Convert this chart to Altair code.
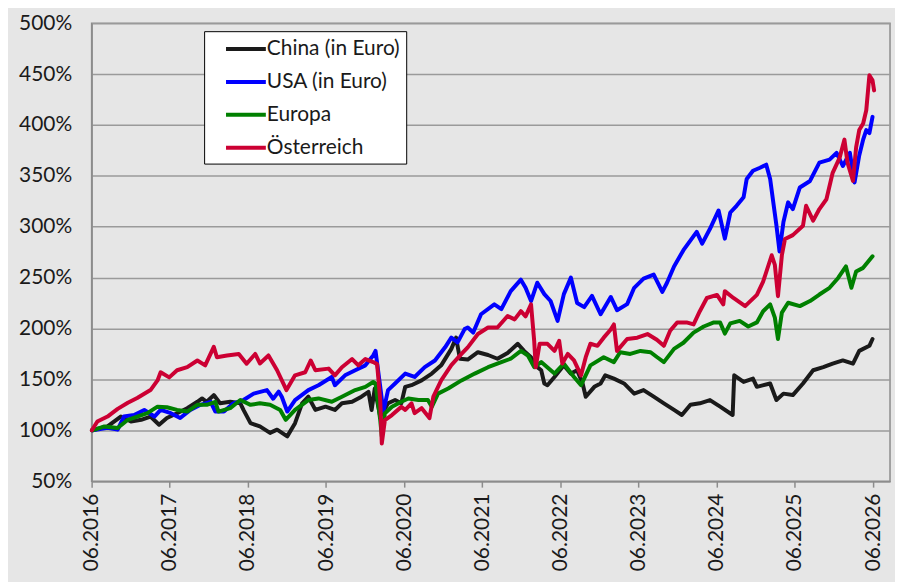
import altair as alt
import pandas as pd

SERIES = ["China (in Euro)", "USA (in Euro)", "Europa", "Österreich"]
COLORS = ["#1a1a1a", "#0000ff", "#008000", "#cc0033"]

Y_TICKS = [50, 100, 150, 200, 250, 300, 350, 400, 450, 500]
X_TICK_YEARS = list(range(2016, 2027))
X_TICKS = [y + 5 / 12 for y in X_TICK_YEARS]  # June of each year
X_DOMAIN = [2016 + 5 / 12, 2026.634]

china_t = [2016.42, 2016.62, 2016.79, 2016.92, 2017.05, 2017.17, 2017.28, 2017.38, 2017.51, 2017.64,
           2017.77, 2017.83, 2017.89, 2017.98, 2018.06, 2018.19, 2018.32, 2018.36, 2018.45, 2018.57,
           2018.70, 2018.79, 2018.92, 2019.02, 2019.11, 2019.19, 2019.28, 2019.41, 2019.53, 2019.62,
           2019.75, 2019.87, 2019.96, 2020.00, 2020.04, 2020.11, 2020.15, 2020.21, 2020.30, 2020.38,
           2020.43, 2020.51, 2020.64, 2020.77, 2020.89, 2021.02, 2021.08, 2021.13, 2021.23, 2021.36,
           2021.49, 2021.61, 2021.74, 2021.87, 2021.95, 2022.04, 2022.12, 2022.17, 2022.21, 2022.25,
           2022.34, 2022.46, 2022.55, 2022.63, 2022.70, 2022.74, 2022.85, 2022.93, 2022.99, 2023.10,
           2023.23, 2023.36, 2023.48, 2023.61, 2023.74, 2023.87, 2023.97, 2024.08, 2024.20, 2024.33,
           2024.46, 2024.62, 2024.64, 2024.76, 2024.88, 2024.93, 2025.10, 2025.18, 2025.27, 2025.39,
           2025.52, 2025.65, 2025.78, 2025.90, 2026.03, 2026.16, 2026.24, 2026.37, 2026.41]
china_v = [100, 103.8, 113.5, 108.6, 110.3, 113.5, 105.4, 112, 116.8, 121.7,
           128, 131.3, 128, 134.6, 126.5, 128, 126.5, 120, 107, 103.8,
           97.4, 100.6, 94, 107, 126.5, 133, 120, 123.2, 120, 126.5,
           128, 133, 137.8, 120, 141, 113.5, 118.4, 126.5, 129.7, 126.5,
           142.7, 144.3, 149, 155.7, 163.8, 180, 191, 170.3, 169.5, 176.7,
           174, 170.3, 176, 185, 178, 171.8, 162, 159, 146, 144.3,
           152.4, 163.8, 155.7, 159, 146, 133, 142.7, 146, 154, 150.8,
           146, 136, 139.5, 133, 126.5, 120, 115, 125, 126.5, 129.7,
           123.2, 115, 154, 147.5, 150.8, 142.7, 146, 129.7, 136, 134.6,
           146, 159, 162, 165.4, 168.6, 165.4, 178, 183, 189.7]

usa_t = [2016.43, 2016.62, 2016.75, 2016.83, 2016.96, 2017.09, 2017.22, 2017.30, 2017.43, 2017.55,
         2017.68, 2017.81, 2017.94, 2018.00, 2018.11, 2018.23, 2018.36, 2018.49, 2018.66, 2018.74,
         2018.81, 2018.85, 2018.92, 2019.02, 2019.19, 2019.32, 2019.49, 2019.53, 2019.66, 2019.79,
         2019.92, 2020.02, 2020.05, 2020.11, 2020.15, 2020.21, 2020.30, 2020.43, 2020.55, 2020.68,
         2020.81, 2020.94, 2021.02, 2021.10, 2021.19, 2021.23, 2021.30, 2021.40, 2021.57, 2021.66,
         2021.78, 2021.91, 2021.97, 2022.04, 2022.12, 2022.21, 2022.29, 2022.38, 2022.46, 2022.55,
         2022.63, 2022.72, 2022.82, 2022.93, 2023.06, 2023.14, 2023.27, 2023.36, 2023.48, 2023.61,
         2023.72, 2023.78, 2023.87, 2023.99, 2024.16, 2024.23, 2024.33, 2024.44, 2024.52, 2024.59,
         2024.67, 2024.76, 2024.80, 2024.88, 2024.97, 2025.05, 2025.10, 2025.14, 2025.18, 2025.22,
         2025.27, 2025.33, 2025.39, 2025.48, 2025.61, 2025.73, 2025.86, 2025.95, 2026.03, 2026.12,
         2026.18, 2026.24, 2026.29, 2026.33, 2026.37, 2026.41]
usa_v = [100, 102.5, 100.6, 113.5, 115, 120, 113.5, 120, 116.8, 112,
         120, 125, 128, 118.4, 118.4, 126.5, 129.7, 136, 139.5, 131,
         138, 133, 118.4, 129.7, 139.5, 144.3, 152.4, 144.3, 154, 159,
         163.8, 173.5, 178, 142.7, 118.4, 139.5, 146, 155.7, 152.4, 162,
         168.6, 181.5, 191, 186.4, 199.4, 201, 196, 214, 223.7, 219,
         236.7, 248, 240, 227, 245, 233.8, 227, 207.5, 233.8, 250,
         225, 221, 232, 214, 231, 218, 224, 240, 249, 253,
         236, 245, 261, 277, 295, 283.4, 298, 316, 288.3, 314,
         320.6, 329, 347, 355, 358, 361, 347, 324, 301.4, 275.6,
         304.7, 324, 317.4, 338.6, 345, 363, 366, 372.6, 359.7, 372.6,
         343.5, 370, 385.6, 395, 392, 408]

europa_t = [2016.43, 2016.58, 2016.75, 2016.88, 2017.00, 2017.13, 2017.26, 2017.38, 2017.51, 2017.64,
            2017.77, 2017.89, 2018.00, 2018.04, 2018.19, 2018.32, 2018.45, 2018.57, 2018.70, 2018.83,
            2018.90, 2019.02, 2019.19, 2019.32, 2019.49, 2019.62, 2019.79, 2019.92, 2020.02, 2020.05,
            2020.11, 2020.13, 2020.17, 2020.26, 2020.38, 2020.47, 2020.60, 2020.72, 2020.77, 2020.85,
            2020.98, 2021.15, 2021.32, 2021.49, 2021.66, 2021.78, 2021.91, 2022.00, 2022.08, 2022.17,
            2022.34, 2022.46, 2022.59, 2022.68, 2022.80, 2022.97, 2023.10, 2023.18, 2023.31, 2023.44,
            2023.57, 2023.65, 2023.74, 2023.87, 2023.99, 2024.12, 2024.25, 2024.38, 2024.46, 2024.52,
            2024.59, 2024.71, 2024.82, 2024.93, 2025.01, 2025.10, 2025.16, 2025.20, 2025.25, 2025.33,
            2025.48, 2025.61, 2025.73, 2025.86, 2025.97, 2026.07, 2026.14, 2026.20, 2026.29, 2026.41]
europa_v = [100, 103.8, 102.2, 110.3, 113.5, 116.8, 123.2, 122.6, 120, 118.4,
            125, 125, 128, 118.4, 121.7, 129.7, 125, 126.5, 125, 120,
            110.3, 120, 129.7, 131.3, 128, 133, 139.5, 142.7, 147.5, 146,
            110, 94, 116.8, 123.2, 128, 131.3, 129.7, 129.7, 123, 136,
            141, 149, 155.7, 162, 167, 170.3, 178, 173.5, 162, 167,
            155.7, 165.4, 152.4, 144.3, 163.8, 171.8, 167, 176.7, 175, 178,
            176.7, 172, 167, 180, 186, 196, 202, 206, 206, 195,
            205, 207.5, 202, 206, 217, 223.7, 210.7, 189.7, 215.6, 225.3,
            222, 227, 233.4, 240, 249.7, 261, 240, 256, 259.6, 271]

oesterreich_t = [2016.42, 2016.49, 2016.62, 2016.75, 2016.88, 2017.00, 2017.17, 2017.26, 2017.30, 2017.41,
                 2017.51, 2017.64, 2017.77, 2017.87, 2017.98, 2018.02, 2018.15, 2018.30, 2018.40, 2018.51,
                 2018.57, 2018.68, 2018.79, 2018.91, 2019.02, 2019.15, 2019.22, 2019.28, 2019.45, 2019.53,
                 2019.62, 2019.75, 2019.83, 2019.92, 2020.02, 2020.07, 2020.11, 2020.13, 2020.17, 2020.26,
                 2020.38, 2020.43, 2020.51, 2020.55, 2020.64, 2020.74, 2020.79, 2020.89, 2021.02, 2021.15,
                 2021.23, 2021.36, 2021.49, 2021.61, 2021.74, 2021.83, 2021.91, 2021.97, 2022.04, 2022.08,
                 2022.10, 2022.15, 2022.25, 2022.34, 2022.40, 2022.44, 2022.51, 2022.59, 2022.68, 2022.74,
                 2022.80, 2022.89, 2022.97, 2023.06, 2023.10, 2023.14, 2023.27, 2023.40, 2023.53, 2023.65,
                 2023.74, 2023.82, 2023.91, 2024.03, 2024.12, 2024.20, 2024.29, 2024.42, 2024.50, 2024.52,
                 2024.63, 2024.78, 2024.93, 2025.01, 2025.12, 2025.16, 2025.20, 2025.25, 2025.29, 2025.39,
                 2025.52, 2025.56, 2025.65, 2025.73, 2025.82, 2025.90, 2025.99, 2026.05, 2026.09, 2026.16,
                 2026.20, 2026.24, 2026.29, 2026.33, 2026.37, 2026.41, 2026.43]
oesterreich_v = [100, 108.6, 113.5, 121, 127, 131.7, 139.5, 149, 157, 152,
                 159, 162, 168.6, 163.8, 182, 171.8, 173.5, 175, 165.4, 175,
                 165.7, 173.5, 159, 139.5, 154, 157, 168.6, 159, 160.6, 154,
                 162, 170, 163.8, 170, 167, 165, 129.7, 87, 110, 115,
                 123, 120, 126.5, 116.8, 121.7, 112, 133, 149, 164, 175,
                 181.5, 194.6, 201, 201, 212.3, 209, 217, 212, 223.7, 188,
                 162, 185, 185, 178, 188, 165.6, 175, 168.6, 154, 171.8,
                 185, 183, 191, 199, 204, 178, 189.7, 191, 194.6, 189,
                 183, 197.8, 206, 206, 204, 217, 230, 233, 223.7, 236.7,
                 230, 222, 233, 246, 272, 262.6, 231.8, 272, 288, 291.8,
                 301, 320.6, 306, 317.4, 327, 353, 368, 385.6, 363, 345,
                 378, 395, 401.5, 414.5, 448.8, 444, 434]

frames = []
for name, ts, vs in zip(SERIES,
                        [china_t, usa_t, europa_t, oesterreich_t],
                        [china_v, usa_v, europa_v, oesterreich_v]):
    frames.append(pd.DataFrame({"t": ts, "v": vs, "serie": name}))
df = pd.concat(frames, ignore_index=True)

FONT = "Lato"
GRID = "#9a9a9a"
FRAME = "#8c8c8c"

chart = alt.Chart(df).mark_line(strokeWidth=4, strokeJoin="round", strokeCap="round").encode(
    x=alt.X("t:Q",
            scale=alt.Scale(domain=X_DOMAIN, nice=False, zero=False),
            axis=alt.Axis(values=X_TICKS, labelExpr="'06.' + floor(datum.value)",
                          labelAngle=270, labelFontSize=21, labelFont=FONT, labelColor="#1a1a1a",
                          labelFlush=False, labelOverlap=False, labelPadding=6,
                          tickSize=6, tickColor=FRAME, tickWidth=1.5,
                          domainColor=FRAME, domainWidth=1.5, grid=False, title=None)),
    y=alt.Y("v:Q",
            scale=alt.Scale(domain=[50, 500], nice=False, zero=False),
            axis=alt.Axis(values=Y_TICKS, labelExpr="datum.value + '%'",
                          labelFontSize=21, labelFont=FONT, labelColor="#1a1a1a",
                          labelPadding=20, tickSize=0, domainColor=FRAME, domainWidth=1.5,
                          gridColor=GRID, gridWidth=1.5, title=None)),
    color=alt.Color("serie:N",
                    scale=alt.Scale(domain=SERIES, range=COLORS),
                    legend=alt.Legend(title=None, orient="none", legendX=113, legendY=8,
                                      fillColor="white", strokeColor="black", padding=6,
                                      symbolType="M-2,0H2", symbolSize=400, symbolStrokeWidth=4,
                                      symbolOffset=24, labelOffset=9,
                                      labelFont=FONT, labelFontSize=21, labelColor="#1a1a1a",
                                      rowPadding=11)),
).properties(
    width=802, height=460,
    autosize=alt.AutoSizeParams(type="none"),
    padding={"left": 84, "top": 14, "right": 5, "bottom": 100},
).configure(
    background="#e6e6e6",
).configure_view(
    stroke=FRAME, strokeWidth=1.5, fill="#e6e6e6",
)

chart.save("out.html", embed_options={"renderer": "svg", "actions": False})
